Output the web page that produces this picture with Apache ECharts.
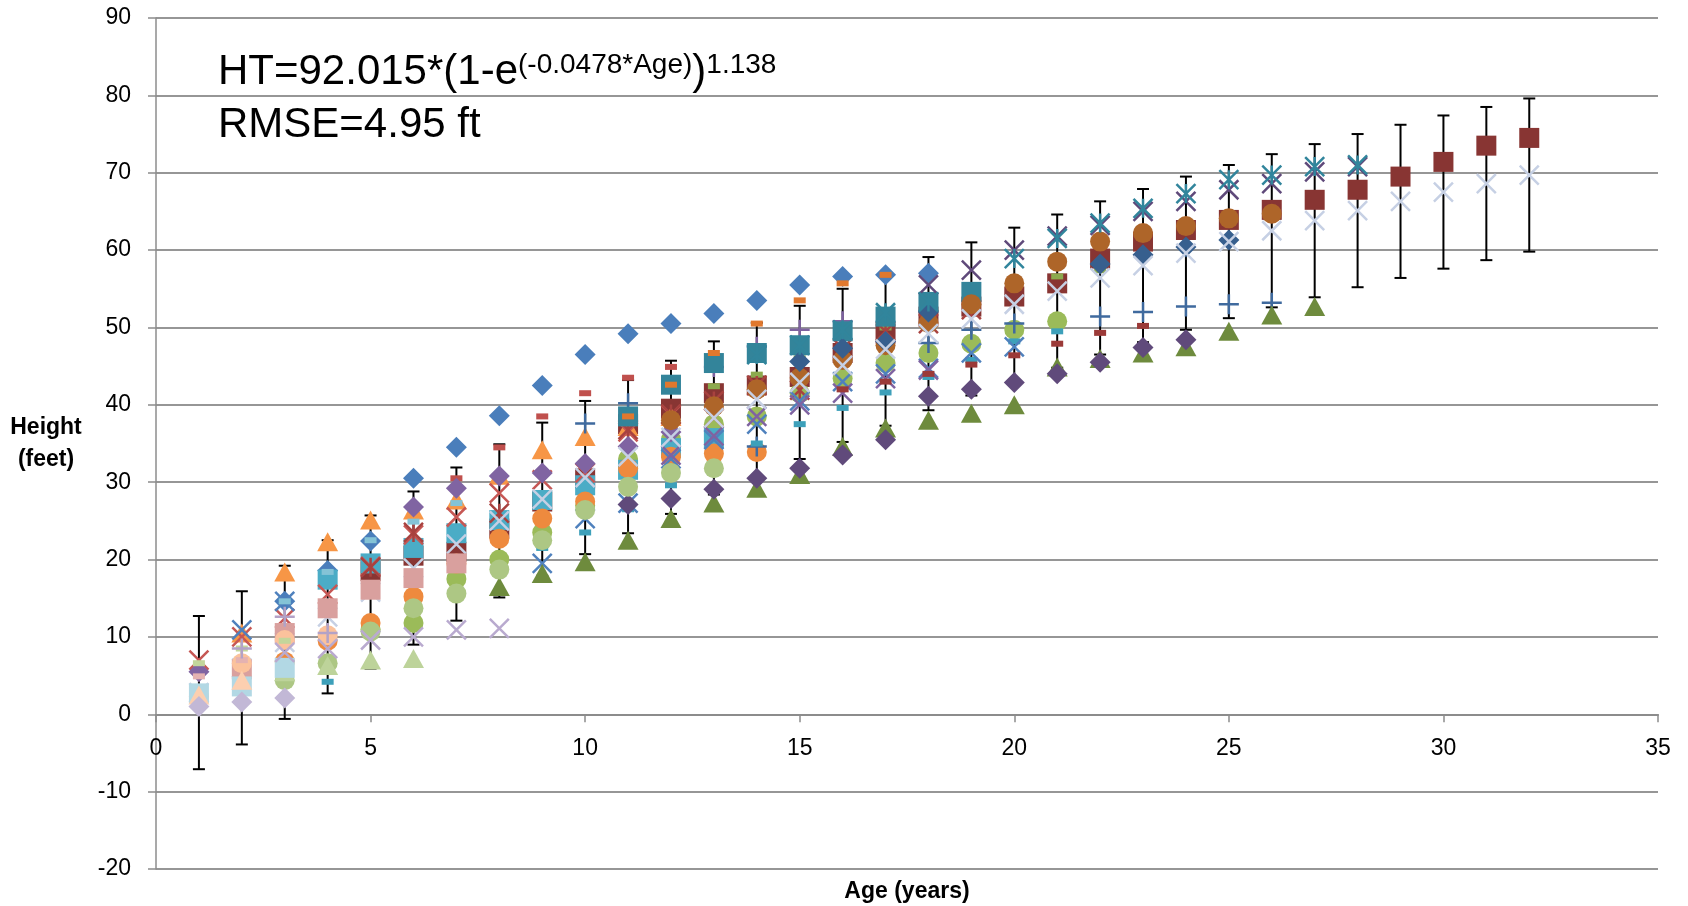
<!DOCTYPE html>
<html><head><meta charset="utf-8">
<script src="https://cdn.jsdelivr.net/npm/echarts@6/dist/echarts.min.js"></script>
<style>html,body{margin:0;padding:0;background:#fff}#c{width:1688px;height:906px}</style>
</head><body><div id="c"></div>
<script>
// ---------- data ----------
const xTicks = [0, 5, 10, 15, 20, 25, 30, 35];
const yTicks = [-20, -10, 0, 10, 20, 30, 40, 50, 60, 70, 80, 90];
const ageCats = [1,2,3,4,5,6,7,8,9,10,11,12,13,14,15,16,17,18,19,20,21,22,23,24,25,26,27,28,29,30,31,32];
const predicted = [2.8,6.0,9.3,12.6,15.8,18.9,22.0,25.0,27.8,30.6,33.3,35.8,38.3,40.7,42.9,45.1,47.2,49.2,51.1,53.0,54.7,56.4,58.0,59.6,61.1,62.5,63.8,65.1,66.3,67.5,68.6,69.7];
const errHalf = 9.9; // about 2 x RMSE

const greenCircle = [[5,11.0],[6,11.8],[7,17.5],[8,20.0],[9,23.5],[10,27.0],[11,33.0],[12,35.5],[13,37.5],[14,38.5],[15,41.5],[16,43.4],[17,45.4],[18,46.7],[19,47.9],[20,49.7],[21,50.8]];
const blueDiamond = [[3,14.6],[4,18.6],[5,22.4],[6,30.5],[7,34.5],[8,38.6],[9,42.5],[10,46.5],[11,49.2],[12,50.5],[13,51.8],[14,53.5],[15,55.5],[16,56.6],[17,56.8],[18,57.0]];
const aquaSquare = [[4,17.4],[5,19.5],[6,21.5],[7,23.4],[8,25.1],[9,27.7],[10,29.6],[11,31.6],[12,34.4],[13,35.7]];
const orangeTriangle = [[2,10.5],[3,18.4],[4,22.3],[5,25.1],[6,26.4],[7,27.7],[8,30.9],[9,34.2],[10,35.9],[11,37.2],[12,38.5]];
const redX = [[1,7.0],[2,10.0],[3,12.4],[4,15.5],[5,19.1],[6,23.2],[7,25.5],[8,28.6],[9,30.3],[10,31.2],[11,36.5],[12,38.7],[13,38.3]];
const orangeCircle = [[3,6.8],[4,9.5],[5,11.8],[6,15.2],[7,19.5],[8,22.7],[9,25.3],[10,27.5],[11,31.8],[12,33.3],[13,33.7],[14,33.9]];
const bluePlus = [[10,37.6],[11,40.2],[14,34.6],[18,48.0],[19,49.7],[20,50.5],[22,51.4],[23,52.0],[24,52.7],[25,53.0],[26,53.2]];
const greenDash = [[13,42.4],[14,43.9],[15,46.0],[17,50.0],[18,52.3],[19,53.5],[20,55.2],[21,56.6],[22,57.4]];
const purplePlus = [[13,44.9],[14,47.5],[15,49.7],[16,50.8]];
const tealDash = [[4,4.2],[9,21.5],[10,23.5],[11,26.5],[12,29.6],[13,32.2],[14,35.0],[15,37.5],[16,39.6],[17,41.6],[18,43.6],[19,45.8],[20,48.2],[21,49.5]];
const redDash = [[7,30.5],[8,34.5],[9,38.5],[10,41.5],[11,43.5],[12,44.9],[13,45.2]];
const redAsterisk = [[5,19.0],[6,23.5],[8,26.0],[11,36.8],[12,38.8],[13,40.5],[14,42.5],[15,41.9],[16,47.3],[17,49.5],[18,50.5],[19,52.3]];
const blueX = [[2,10.9],[3,14.6],[9,19.5],[10,25.3],[11,27.3],[12,33.0],[13,35.5],[14,37.5],[15,40.5],[16,43.0],[17,44.0],[18,44.7],[19,46.7],[20,47.5]];
const purpleDiamondLight = [[1,5.5],[6,26.8],[7,29.2],[8,30.8],[9,31.2],[10,32.4],[11,34.6],[12,36.5]];
const purpleXLight = [[12,33.5],[13,36.0],[14,38.5],[15,40.0],[16,41.5],[17,43.4],[18,44.5]];
const greenTriangle = [[8,16.5],[9,18.2],[10,19.7],[11,22.5],[12,25.3],[13,27.3],[14,29.2],[15,31.0],[16,34.6],[17,37.0],[18,38.0],[19,38.9],[20,40.0],[21,44.9],[22,46.0],[23,46.7],[24,47.5],[25,49.5],[26,51.6],[27,52.7]];
const purpleDiamond = [[11,27.1],[12,27.9],[13,29.1],[14,30.5],[15,31.8],[16,33.5],[17,35.5],[18,41.1],[19,42.0],[20,42.9],[21,44.0],[22,45.5],[23,47.4],[24,48.4]];
const tealSquare = [[11,38.5],[12,42.6],[13,45.4],[14,46.7],[15,47.7],[16,49.5],[17,51.4],[18,53.3],[19,54.6]];
const orangeDash = [[11,38.5],[12,42.6],[13,46.7],[14,50.5],[15,53.5],[16,55.7],[17,56.8]];
const darkRedSquare = [[5,18.5],[6,20.5],[7,21.0],[8,24.0],[9,27.5],[10,30.5],[11,37.5],[12,39.5],[13,41.5],[14,42.5],[15,43.6],[16,46.7],[17,49.2],[18,51.4],[19,52.7],[20,54.0],[21,55.7],[22,58.9],[23,61.1],[24,62.6],[25,63.9],[26,65.2],[27,66.5],[28,67.8],[29,69.5],[30,71.4],[31,73.5],[32,74.5]];
const brownCircle = [[12,38.0],[13,39.8],[14,42.0],[15,43.5],[16,45.8],[17,47.7],[18,50.6],[19,53.0],[20,55.7],[21,58.5],[22,61.1],[23,62.2],[24,63.1],[25,64.1],[26,64.7]];
const darkBlueDiamond = [[15,45.6],[16,47.3],[17,48.2],[18,52.0],[22,58.2],[23,59.4],[24,60.4],[25,61.3]];
const darkRedDash = [[16,42.0],[17,43.0],[18,44.0],[19,45.2],[20,46.4],[21,47.9],[22,49.3],[23,50.2]];
const purpleX = [[18,55.5],[19,57.4],[20,60.0],[21,61.8],[22,63.2],[23,65.0],[24,66.3],[25,67.8],[26,68.6],[27,70.1],[28,70.8]];
const tealAsterisk = [[14,46.5],[15,47.7],[16,49.7],[17,51.9],[18,53.3],[20,58.9],[21,61.5],[22,63.5],[23,65.4],[24,67.3],[25,69.1],[26,69.7],[27,70.8],[28,71.0]];
const pinkSquare = [[2,5.8],[3,10.5],[4,13.7],[5,16.1],[6,17.6],[7,19.5]];
const lightGreenCircle = [[3,4.4],[4,6.6],[5,10.7],[6,13.7],[7,15.6],[8,18.7],[9,22.5],[10,26.4],[11,29.4],[12,31.2],[13,31.8]];
const lightGreenTriangle = [[3,5.5],[4,6.3],[5,7.0],[6,7.2]];
const peachCircle = [[1,2.3],[2,6.6],[3,9.6],[4,10.2]];
const lightBlueDash = [[3,14.6],[4,18.4],[5,22.5],[6,24.9],[7,27.3]];
const lightBlueSquare = [[1,2.7],[2,3.6],[3,6.0]];
const lavenderX = [[3,8.0],[4,8.5],[5,9.6],[6,10.0],[7,10.9],[8,11.1]];
const lightGreenDash = [[1,6.6],[2,8.5],[3,9.5]];
const pinkDash = [[1,4.9],[2,7.0]];
const peachTriangle = [[1,2.5],[2,4.4]];
const lavenderDiamond = [[1,1.0],[2,1.6],[3,2.1]];
const lightPurplePlus = [[2,8.5],[3,12.6],[4,10.5]];

const eqParts = ['HT=92.015*(1-e', '(-0.0478*Age)', ')', '1.138'];
const rmseText = 'RMSE=4.95 ft';

// ---------- styles ----------
const FONT = '"Liberation Sans", Arial, sans-serif';
const SYM = {
  diamond: {symbol: 'diamond', size: 21, stroke: false},
  square: {symbol: 'rect', size: 20, stroke: false},
  circle: {symbol: 'circle', size: 20, stroke: false},
  triangle: {symbol: 'triangle', size: [21, 19], stroke: false},
  dash: {symbol: 'rect', size: [12, 6], stroke: false},
  x: {symbol: 'path://M0 0L10 10M10 0L0 10', size: 19, stroke: true},
  star: {symbol: 'path://M0 0L10 10M10 0L0 10M5 0L5 10', size: 19, stroke: true},
  plus: {symbol: 'path://M5 0L5 10M0 5L10 5', size: 20, stroke: true}
};
const specs = [
  [darkRedSquare, 'square', '#883533'],
  [greenCircle, 'circle', '#9BBB59'],
  [blueDiamond, 'diamond', '#4A7EBB'],
  [aquaSquare, 'square', '#4BACC6'],
  [orangeTriangle, 'triangle', '#F79646'],
  [redX, 'x', '#C65754'],
  [orangeCircle, 'circle', '#EE8A3E'],
  [bluePlus, 'plus', '#3F6A9E'],
  [greenDash, 'dash', '#8CAA4E'],
  [purplePlus, 'plus', '#7E62A0'],
  [tealDash, 'dash', '#3DA0BA'],
  [redDash, 'dash', '#C0504D'],
  [redAsterisk, 'star', '#A8423F'],
  [blueX, 'x', '#4F81BD'],
  [purpleDiamondLight, 'diamond', '#8064A2'],
  [purpleXLight, 'x', '#7F63A1'],
  [greenTriangle, 'triangle', '#6E8B3D'],
  [purpleDiamond, 'diamond', '#604A7B'],
  [tealSquare, 'square', '#33849A'],
  [orangeDash, 'dash', '#E0782E'],
  [brownCircle, 'circle', '#AE6529'],
  [darkBlueDiamond, 'diamond', '#375F8E'],
  [darkRedDash, 'dash', '#9B3A38'],
  [purpleX, 'x', '#5F497A'],
  [tealAsterisk, 'star', '#31859C'],
  [ageCats.map((a, i) => [a, predicted[i]]), 'x', '#C6D0E4'],
  [pinkSquare, 'square', '#D9A09E'],
  [lightGreenCircle, 'circle', '#ADC784'],
  [lightGreenTriangle, 'triangle', '#BDD39A'],
  [peachCircle, 'circle', '#FBC29C'],
  [lightBlueDash, 'dash', '#84C3D6'],
  [lightBlueSquare, 'square', '#B2D8E4'],
  [lavenderX, 'x', '#B9AACF'],
  [lightGreenDash, 'dash', '#C3D69B'],
  [pinkDash, 'dash', '#E4B2B1'],
  [peachTriangle, 'triangle', '#FCCFB0'],
  [lavenderDiamond, 'diamond', '#C2B8D6'],
  [lightPurplePlus, 'plus', '#B3A2C7']
];

const series = [];
series.push({
  type: 'custom', z: 2, silent: true, clip: false,
  data: ageCats.map((a, i) => [a, predicted[i] - errHalf, predicted[i] + errHalf]),
  encode: {x: 0, y: [1, 2]},
  renderItem: function (params, api) {
    const lo = api.coord([api.value(0), api.value(1)]);
    const hi = api.coord([api.value(0), api.value(2)]);
    const w = 6;
    const st = {stroke: '#000', lineWidth: 2};
    return {type: 'group', children: [
      {type: 'line', shape: {x1: lo[0], y1: lo[1], x2: hi[0], y2: hi[1]}, style: st},
      {type: 'line', shape: {x1: lo[0] - w, y1: lo[1], x2: lo[0] + w, y2: lo[1]}, style: st},
      {type: 'line', shape: {x1: hi[0] - w, y1: hi[1], x2: hi[0] + w, y2: hi[1]}, style: st}
    ]};
  }
});
specs.forEach(function (s, i) {
  const m = SYM[s[1]];
  series.push({
    type: 'scatter', silent: true, z: 3 + i * 0.01,
    data: s[0], symbol: m.symbol, symbolSize: m.size,
    itemStyle: m.stroke ? {color: 'rgba(0,0,0,0)', borderColor: s[2], borderWidth: 2.5, opacity: 1}
                        : {color: s[2], opacity: 1}
  });
});

// equation text pieces, placed side by side using measured widths
const ctx = document.createElement('canvas').getContext('2d');
const eqSizes = [42, 28, 42, 28];
const eqBase = [86.7, 75, 86.7, 75];
const graphic = [];
let ex = 218;
eqParts.forEach(function (t, i) {
  const f = eqSizes[i] + 'px ' + FONT;
  graphic.push({type: 'text', x: ex, y: eqBase[i] - 0.3465 * eqSizes[i], silent: true,
    style: {text: t, font: f, fill: '#000', align: 'left', verticalAlign: 'middle'}});
  ctx.font = f;
  ex += ctx.measureText(t).width;
});
graphic.push({type: 'text', x: 218, y: 140 - 0.3465 * 42, silent: true,
  style: {text: rmseText, font: '42px ' + FONT, fill: '#000', align: 'left', verticalAlign: 'middle'}});

// grid geometry; the x axis crosses the y axis at 0
const GRID = {left: 156, right: 30, top: 18, bottom: 37};
const plotH = 906 - GRID.top - GRID.bottom;
const yMin = yTicks[0], yMax = yTicks[yTicks.length - 1];
const zeroOffset = -(0 - yMin) / (yMax - yMin) * plotH;

const chart = echarts.init(document.getElementById('c'), null, {renderer: 'canvas'});
chart.setOption({
  animation: false,
  backgroundColor: '#fff',
  textStyle: {fontFamily: FONT},
  grid: Object.assign({containLabel: false, outerBoundsMode: 'none'}, GRID),
  xAxis: {
    type: 'value', min: xTicks[0], max: xTicks[xTicks.length - 1], interval: xTicks[1] - xTicks[0],
    position: 'bottom', offset: zeroOffset,
    name: 'Age (years)', nameLocation: 'middle', nameGap: 177,
    nameTextStyle: {fontSize: 23, fontWeight: 'bold', color: '#000', verticalAlign: 'middle', fontFamily: FONT},
    axisLine: {onZero: false, lineStyle: {color: '#8c8c8c', width: 2}},
    axisTick: {show: true, inside: false, length: 8, lineStyle: {color: '#8c8c8c', width: 1.5}},
    axisLabel: {fontSize: 23, color: '#000', margin: 23, fontFamily: FONT},
    splitLine: {show: false}
  },
  yAxis: {
    type: 'value', min: yMin, max: yMax, interval: yTicks[1] - yTicks[0],
    name: 'Height\n(feet)', nameLocation: 'middle', nameGap: 110, nameRotate: 0,
    nameTextStyle: {fontSize: 23, fontWeight: 'bold', color: '#000', align: 'center', verticalAlign: 'middle', lineHeight: 32, padding: [9, 0, 0, 0], fontFamily: FONT},
    axisLine: {show: true, onZero: false, lineStyle: {color: '#8c8c8c', width: 1.5}},
    axisTick: {show: true, inside: false, length: 8, lineStyle: {color: '#8c8c8c', width: 1.5}},
    axisLabel: {fontSize: 23, color: '#000', margin: 25, fontFamily: FONT},
    splitLine: {show: true, lineStyle: {color: '#969696', width: 2}}
  },
  graphic: graphic,
  series: series
});
</script>
</body></html>
